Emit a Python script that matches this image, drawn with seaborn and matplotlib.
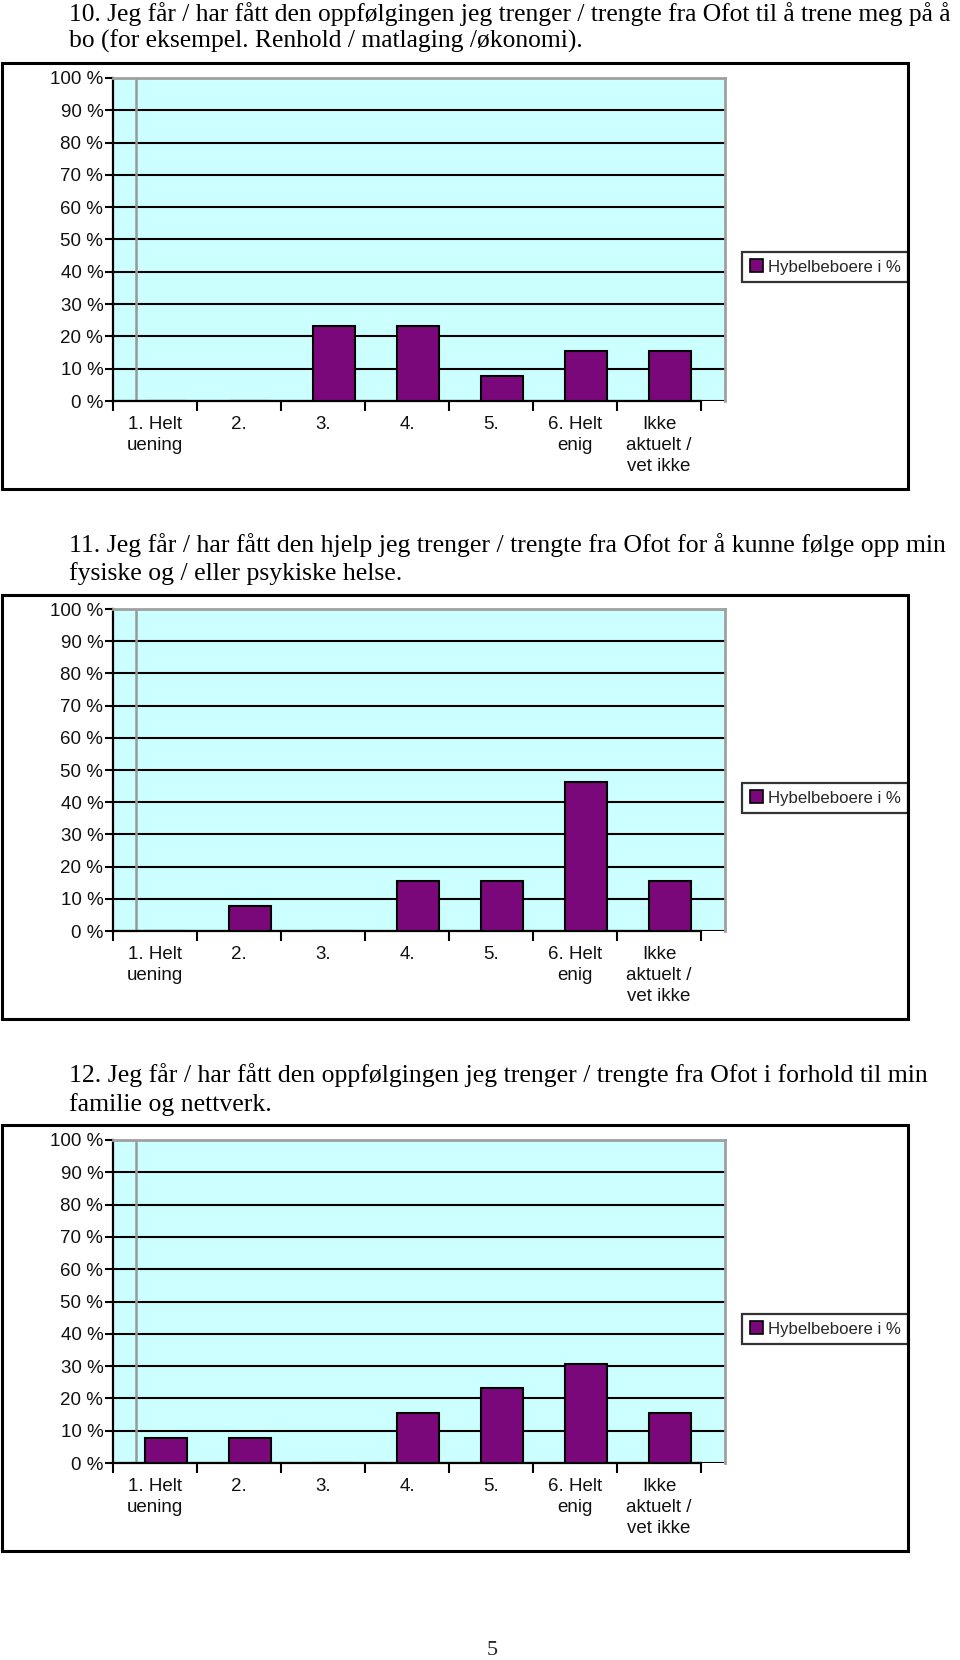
import matplotlib
matplotlib.use("Agg")
import matplotlib.pyplot as plt
import seaborn as sns
import pandas as pd
from matplotlib.patches import Rectangle, Patch

categories = ["1. Helt\nuening", "2.", "3.", "4.", "5.", "6. Helt\nenig", "Ikke\naktuelt /\nvet ikke"]
values_q10 = [0, 0, 23.1, 23.1, 7.7, 15.4, 15.4]
values_q11 = [0, 7.7, 0, 15.4, 15.4, 46.2, 15.4]
values_q12 = [7.7, 7.7, 0, 15.4, 23.1, 30.8, 15.4]
series_name = "Hybelbeboere i %"
yticks = list(range(0, 101, 10))
ytick_labels = [f"{v} %" for v in yticks]

titles = [
    ["10. Jeg får / har fått den oppfølgingen jeg trenger / trengte fra Ofot til å trene meg på å",
     "bo (for eksempel. Renhold / matlaging /økonomi)."],
    ["11. Jeg får / har fått den hjelp jeg trenger / trengte fra Ofot for å kunne følge opp min",
     "fysiske og / eller psykiske helse."],
    ["12. Jeg får / har fått den oppfølgingen jeg trenger / trengte fra Ofot i forhold til min",
     "familie og nettverk."],
]

sns.set_theme(style="white")
plt.rcParams["font.family"] = ["Liberation Sans", "DejaVu Sans"]

W, H = 960, 1660
fig = plt.figure(figsize=(W / 100, H / 100), dpi=100)
fig.patch.set_facecolor("white")

def fx(px):
    return px / W

def fy(py):
    return 1 - py / H

layouts = [
    dict(t=(14, 41), box=(63, 489), plot=(78, 401), leg=267, tsize=18.4),
    dict(t=(545, 574), box=(595, 1019), plot=(609, 931), leg=798, tsize=18.5),
    dict(t=(1075, 1105), box=(1125, 1551), plot=(1140, 1463), leg=1329, tsize=18.5),
]
data_sets = [values_q10, values_q11, values_q12]

bar_color = "#7a087a"
left_px, right_px = 113, 725
slot = 84.0
bar0_px = 166.0
xmin = (left_px - bar0_px) / slot
xmax = (right_px - bar0_px) / slot

for lay, vals, ttl in zip(layouts, data_sets, titles):
    for line, ty in zip(ttl, lay["t"]):
        fig.text(fx(69), fy(ty), line, ha="left", va="center",
                 family=["Liberation Serif", "DejaVu Serif"], fontsize=lay["tsize"], color="black")
    b0, b1 = lay["box"]
    fig.patches.append(Rectangle((fx(2), fy(b1)), fx(908) - fx(2), fy(b0) - fy(b1),
                                 transform=fig.transFigure, fill=False, edgecolor="black",
                                 linewidth=2.2, zorder=0))
    p0, p1 = lay["plot"]
    ax = fig.add_axes([fx(left_px), fy(p1), fx(right_px) - fx(left_px), fy(p0) - fy(p1)])
    ax.set_facecolor("#ccffff")
    df = pd.DataFrame({"kategori": categories, "verdi": vals})
    sns.barplot(data=df, x="kategori", y="verdi", ax=ax, color=bar_color, saturation=1,
                width=0.5, edgecolor="black", linewidth=1.5, zorder=3)
    ax.set_xlim(xmin, xmax)
    ax.set_ylim(0, 100)
    ax.set_xlabel("")
    ax.set_ylabel("")
    ax.set_yticks(yticks)
    ax.set_yticklabels(ytick_labels)
    ax.tick_params(axis="y", which="major", direction="out", length=6, width=1.5,
                   color="black", pad=1, labelsize=13.5, left=True, labelcolor="#111111")
    ax.yaxis.grid(True, color="black", linewidth=1.5)
    ax.set_axisbelow(True)
    n = len(categories)
    ax.set_xticks([xmin + k for k in range(n + 1)])
    ax.set_xticklabels([])
    ax.set_xticks([xmin + 0.5 + k for k in range(n)], minor=True)
    ax.set_xticklabels(categories, minor=True, linespacing=1.3)
    ax.tick_params(axis="x", which="major", direction="out", length=7, width=1.5,
                   color="black", bottom=True)
    ax.tick_params(axis="x", which="minor", length=0, pad=11, labelsize=13.5,
                   labelcolor="#111111", bottom=True)
    ax.axvline(xmin + 23 / slot, color="#999999", linewidth=1.8, zorder=1)
    for s in ["left", "bottom"]:
        ax.spines[s].set_color("black")
        ax.spines[s].set_linewidth(1.6)
    ax.spines["bottom"].set_bounds(xmin, xmin + n)
    for s in ["top", "right"]:
        ax.spines[s].set_color("#a0a0a0")
        ax.spines[s].set_linewidth(2)
    handle = Patch(facecolor=bar_color, edgecolor="black", linewidth=1.2, label=series_name)
    leg = ax.legend(handles=[handle], loc="center right",
                    bbox_to_anchor=(fx(908), fy(lay["leg"])), bbox_transform=fig.transFigure,
                    frameon=True, fancybox=False, edgecolor="black", fontsize=12.1,
                    handlelength=0.75, handleheight=0.75, handletextpad=0.3,
                    borderpad=0.45, borderaxespad=0)
    leg.get_frame().set_linewidth(1.6)

fig.text(fx(492), fy(1650), "5", ha="center", va="center",
         family=["Liberation Serif", "DejaVu Serif"], fontsize=16)

fig.savefig("out.png", dpi=100)
